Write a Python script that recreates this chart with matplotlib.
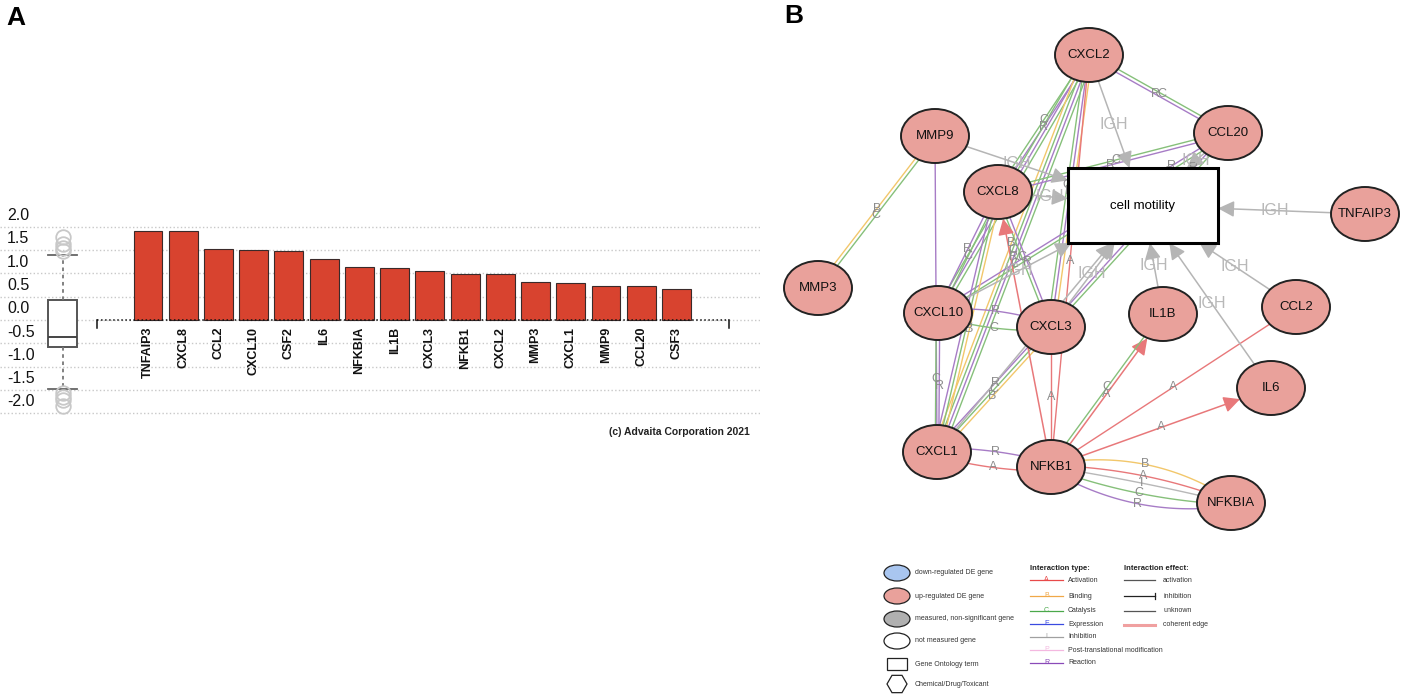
import numpy as np
import matplotlib
matplotlib.use('Agg')
import matplotlib.pyplot as plt
from matplotlib.patches import Ellipse, Rectangle, RegularPolygon

plt.rcParams['font.family'] = ['Liberation Sans', 'DejaVu Sans']

# ---------------- panel A data ----------------
genes = ['TNFAIP3', 'CXCL8', 'CCL2', 'CXCL10', 'CSF2', 'IL6', 'NFKBIA', 'IL1B',
         'CXCL3', 'NFKB1', 'CXCL2', 'MMP3', 'CXCL1', 'MMP9', 'CCL20', 'CSF3']
logfc = [1.91, 1.90, 1.52, 1.51, 1.49, 1.30, 1.13, 1.11,
         1.06, 0.99, 0.98, 0.81, 0.79, 0.73, 0.73, 0.665]
box_q1, box_med, box_q3 = -0.57, -0.36, 0.43
whisk_lo, whisk_hi = -1.49, 1.39
fliers = [1.47, 1.55, 1.63, 1.78, -1.57, -1.65, -1.72, -1.84]
yticks = [2.0, 1.5, 1.0, 0.5, 0.0, -0.5, -1.0, -1.5, -2.0]

# ---------------- panel B data ----------------
node_names = ['CXCL2', 'CCL20', 'MMP9', 'CXCL8', 'TNFAIP3', 'MMP3', 'CXCL10',
              'CXCL3', 'IL1B', 'CCL2', 'IL6', 'CXCL1', 'NFKB1', 'NFKBIA']
node_x = [1089, 1228, 935, 998, 1365, 818, 938, 1051, 1163, 1296, 1271, 937, 1051, 1231]
node_y = [55, 133, 136, 192, 214, 288, 313, 327, 314, 307, 388, 452, 467, 503]
go_term = 'cell motility'
go_box = (1068, 168, 150, 75)

edges = [
    ('CXCL2', 'CCL20', 'RC'),
    ('CXCL2', 'CXCL8', 'CR'),
    ('CXCL2', 'CXCL10', 'CRC'),
    ('CXCL2', 'CXCL3', 'CRB'),
    ('CXCL2', 'CXCL1', 'BCRC'),
    ('CXCL2', 'NFKB1', 'A'),
    ('CCL20', 'CXCL8', 'CR'),
    ('CCL20', 'CXCL10', 'RC'),
    ('CCL20', 'CXCL3', 'RC'),
    ('MMP9', 'MMP3', 'BC'),
    ('MMP9', 'CXCL1', 'R'),
    ('CXCL8', 'CXCL10', 'RC'),
    ('CXCL8', 'CXCL3', 'CR'),
    ('CXCL8', 'CXCL1', 'RCB'),
    ('CXCL10', 'CXCL3', 'RC'),
    ('CXCL10', 'CXCL1', 'CR'),
    ('CXCL3', 'CXCL1', 'RCB'),
    ('CXCL1', 'NFKB1', 'RA'),
    ('NFKB1', 'CXCL3', 'A'),
    ('NFKB1', 'CXCL8', 'A'),
    ('NFKB1', 'IL1B', 'AC'),
    ('NFKB1', 'CCL2', 'A'),
    ('NFKB1', 'IL6', 'A'),
    ('NFKB1', 'NFKBIA', 'BAICR'),
]
label_frac = {('CCL20', 'CXCL3'): 0.2, ('CCL20', 'CXCL10'): 0.2}
curved = {
    ('CXCL10', 'CXCL3'): [(3, 6), (-3, -5)],
    ('CXCL1', 'NFKB1'): [(4, 4), (-4, -4)],
    ('NFKB1', 'NFKBIA'): [(3, 18), (1.5, 8), (0, 2), (-1.5, -7), (-3, -16)],
}
arrowed = {('NFKB1', 'CXCL8'), ('NFKB1', 'IL1B'), ('NFKB1', 'IL6')}
igh_sources = ['CXCL2', 'CCL20', 'MMP9', 'CXCL8', 'TNFAIP3', 'CCL2', 'IL6',
               'IL1B', 'CXCL3', 'CXCL10', 'CXCL1']
edge_col = {'A': '#e8787a', 'B': '#f2c76b', 'C': '#86c07a', 'R': '#a77cc6', 'I': '#b8b8b8'}

legend_nodes = ['down-regulated DE gene', 'up-regulated DE gene',
                'measured, non-significant gene', 'not measured gene']
legend_node_cols = ['#a9c6f0', '#e9a19b', '#b0b0b0', 'white']
itype_names = ['Activation', 'Binding', 'Catalysis', 'Expression', 'Inhibition',
               'Post-translational modification', 'Reaction']
itype_letters = ['A', 'B', 'C', 'E', 'I', 'P', 'R']
itype_cols = ['#e84a4a', '#f0a848', '#4aa84a', '#3a4ae0', '#a0a0a0', '#f4b8e0', '#8a4ab8']
effect_names = ['activation', 'inhibition', 'unknown', 'coherent edge']

W, H = 1406, 695
fig = plt.figure(figsize=(W / 100, H / 100), dpi=100)

# full-figure pixel axes for panel B and annotations
net = fig.add_axes([0, 0, 1, 1])
net.set_xlim(0, W)
net.set_ylim(H, 0)
net.axis('off')

# ---------------- panel A ----------------
ax = fig.add_axes([0, (H - 427.2) / H, 760 / W, 214.4 / H])
ax.patch.set_alpha(0)
x_left, x_right = -4.201, 17.37
ax.set_xlim(x_left, x_right)
ax.set_ylim(-2.3, 2.3)
ax.axis('off')

ax.hlines(yticks, x_left, x_right, colors='#c8c8c8', linestyles=':', lw=1, zorder=0)
for v in yticks:
    ax.text(-4.0, v + 0.08, f'{v:.1f}', ha='left', va='bottom', fontsize=11.5, color='#111')

x = np.arange(len(genes))
ax.bar(x, logfc, width=0.82, color='#d8432f', edgecolor='#3a2a2a', lw=0.8, zorder=2)
for i, g in enumerate(genes):
    ax.text(i, -0.15, g, rotation=90, ha='center', va='top', fontsize=9,
            fontweight='bold', color='#111')

ax.plot([-1.448, 16.49], [0, 0], ls=':', color='#111', lw=1.1, zorder=3)
ax.plot([-1.448, -1.448], [0, -0.17], color='#111', lw=1.1)
ax.plot([16.49, 16.49], [0, -0.17], color='#111', lw=1.1)

stats = [dict(med=box_med, q1=box_q1, q3=box_q3, whislo=whisk_lo, whishi=whisk_hi,
              fliers=fliers)]
ax.bxp(stats, positions=[-2.427], widths=0.823, capwidths=0.85, patch_artist=True,
       boxprops=dict(facecolor='white', edgecolor='#555', lw=1.4),
       medianprops=dict(color='#444', lw=1.4),
       whiskerprops=dict(color='#777', ls=(0, (2, 2)), lw=1.3),
       capprops=dict(color='#666', lw=1.3),
       flierprops=dict(marker='o', mfc='none', mec='#c8c8c8', ms=10.5, mew=1.3))

net.text(750, 432, '(c) Advaita Corporation 2021', ha='right', va='center',
         fontsize=7.5, fontweight='bold', color='#222')
net.text(6, 6, 'A', ha='left', va='top', fontsize=19, fontweight='bold')
net.text(784, 4, 'B', ha='left', va='top', fontsize=19, fontweight='bold')

# ---------------- panel B ----------------
pos = {n: np.array([xx, yy], float) for n, xx, yy in zip(node_names, node_x, node_y)}
RX, RY = 34, 27


def rim_dist(ux, uy):
    return 1 / np.sqrt((ux / RX) ** 2 + (uy / RY) ** 2)


for src, tgt, types in edges:
    p, q = pos[src], pos[tgt]
    d = q - p
    L = np.hypot(*d)
    u = d / L
    nrm = np.array([u[1], -u[0]])
    n = len(types)
    for k, t in enumerate(types):
        if (src, tgt) in curved:
            off, bend = curved[(src, tgt)][k]
        else:
            off, bend = (k - (n - 1) / 2) * 3.5, 0
        p0 = p + nrm * off
        p1 = q + nrm * off
        ctrl = (p0 + p1) / 2 + 2 * bend * nrm
        col = edge_col[t]
        if (src, tgt) in arrowed and t == 'A':
            end = p1 - u * rim_dist(*u)
            net.annotate('', xy=end, xytext=p0, zorder=2,
                         arrowprops=dict(arrowstyle='-|>,head_length=0.7,head_width=0.35',
                                         color=col, lw=1.1, mutation_scale=14,
                                         shrinkA=0, shrinkB=0))
        else:
            s = np.linspace(0, 1, 60)[:, None]
            pts = (1 - s) ** 2 * p0 + 2 * (1 - s) * s * ctrl + s ** 2 * p1
            net.plot(pts[:, 0], pts[:, 1], color=col, lw=1.0, zorder=2,
                     solid_capstyle='butt')
        f = label_frac.get((src, tgt), 0.5)
        lp = (1 - f) ** 2 * p0 + 2 * (1 - f) * f * ctrl + f ** 2 * p1
        if (src, tgt) not in curved:
            lp = lp + u * (k - (n - 1) / 2) * 6
        net.text(lp[0], lp[1], t, ha='center', va='center', fontsize=9,
                 color='#8c8c8c', zorder=3)

bx0, by0, bw, bh = go_box
bc = np.array([bx0 + bw / 2, by0 + bh / 2])
for sname in igh_sources:
    p = pos[sname]
    d = bc - p
    tx = ((bx0 if d[0] > 0 else bx0 + bw) - p[0]) / d[0]
    ty = ((by0 if d[1] > 0 else by0 + bh) - p[1]) / d[1]
    end = p + d * max(tx, ty)
    u = d / np.hypot(*d)
    start = p + u * rim_dist(*u)
    net.annotate('', xy=end, xytext=p, zorder=2,
                 arrowprops=dict(arrowstyle='-|>,head_length=0.7,head_width=0.35',
                                 color='#b5b5b5', lw=1.1, mutation_scale=14,
                                 shrinkA=0, shrinkB=0))
    mid = (start + end) / 2
    net.text(mid[0], mid[1], 'IGH', ha='center', va='center', fontsize=11.5,
             color='#b8b8b8', zorder=3)

net.add_patch(Rectangle((bx0, by0), bw, bh, fc='white', ec='black', lw=2.2, zorder=4))
net.text(bc[0], bc[1], go_term, ha='center', va='center', fontsize=9.5, zorder=4.5)

for nm in node_names:
    c = pos[nm]
    net.add_patch(Ellipse(c, 2 * RX, 2 * RY, fc='#e9a19b', ec='#222', lw=1.4, zorder=5))
    net.text(c[0], c[1], nm, ha='center', va='center', fontsize=9.5, color='#111',
             zorder=6)

# ---------------- legend ----------------
leg_y = [573, 596, 619, 641]
for lab, col, yy in zip(legend_nodes, legend_node_cols, leg_y):
    net.add_patch(Ellipse((897, yy), 26, 16, fc=col, ec='#222', lw=0.9))
    net.text(915, yy, lab, ha='left', va='center', fontsize=5, color='#333')
net.add_patch(Rectangle((887, 658), 20, 12, fc='white', ec='#222', lw=0.9))
net.text(915, 664, 'Gene Ontology term', ha='left', va='center', fontsize=5, color='#333')
net.add_patch(RegularPolygon((897, 684), 6, radius=10, orientation=np.pi / 6,
                             fc='white', ec='#222', lw=0.9))
net.text(915, 684, 'Chemical/Drug/Toxicant', ha='left', va='center', fontsize=5,
         color='#333')

net.text(1030, 569, 'Interaction type:', ha='left', va='center', fontsize=5.5,
         fontweight='bold', color='#222')
type_y = [580, 596, 611, 624, 637, 650, 663]
for lab, let, col, yy in zip(itype_names, itype_letters, itype_cols, type_y):
    net.plot([1030, 1063], [yy, yy], color=col, lw=0.9)
    net.text(1046.5, yy - 0.5, let, ha='center', va='center', fontsize=5, color=col)
    net.text(1068, yy, lab, ha='left', va='center', fontsize=5, color='#333')

net.text(1124, 569, 'Interaction effect:', ha='left', va='center', fontsize=5.5,
         fontweight='bold', color='#222')
eff_y = [580, 596, 611, 625]
for lab, yy in zip(effect_names, eff_y):
    if lab == 'coherent edge':
        net.plot([1124, 1155], [yy, yy], color='#f0a0a0', lw=2.2)
    else:
        net.plot([1124, 1155], [yy, yy], color='#555' if lab != 'inhibition' else '#222',
                 lw=0.9)
    if lab == 'inhibition':
        net.plot([1155, 1155], [yy - 3, yy + 3], color='#222', lw=0.9)
    net.text(1163, yy, lab, ha='left', va='center', fontsize=5, color='#333')

fig.savefig('out.png', dpi=100)
